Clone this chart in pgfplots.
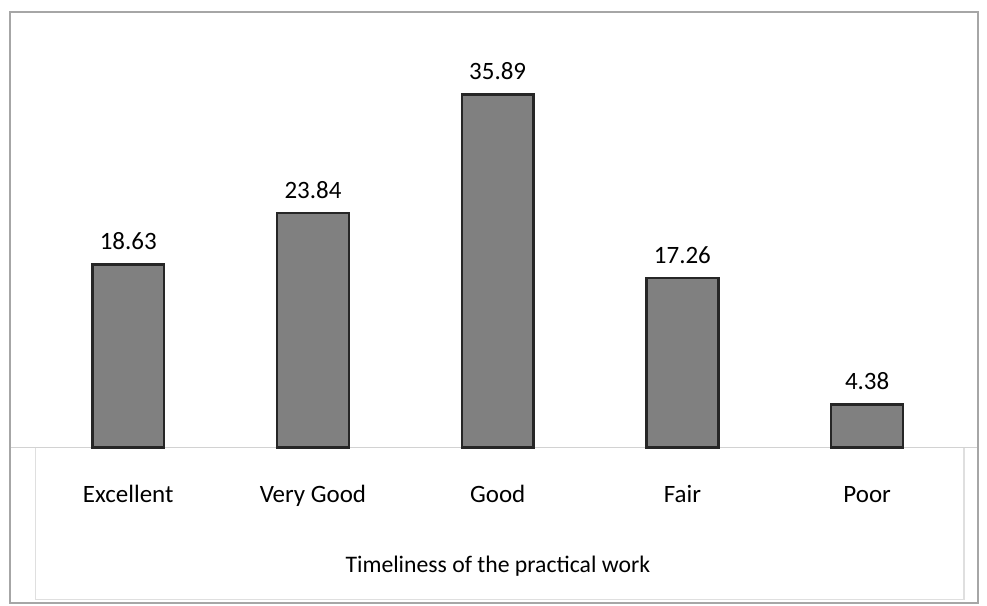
\documentclass[border=0pt]{standalone}
\usepackage{pgfplots}
\pgfplotsset{compat=1.18}
\usepackage{fontspec}
\setmainfont{Carlito}
\begin{document}
\begin{tikzpicture}
\begin{axis}[
  scale only axis,
  width=387.8pt, height=236.8pt,
  xmin=-0.64, xmax=4.6, ymin=-15.8, ymax=44.3,
  clip=false,
  axis x line*=middle,
  axis y line=none,
  x axis line style={draw=gray!35, -},
  ytick=\empty,
  xtick=data,
  xticklabels={Excellent, Very Good, Good, Fair, Poor},
  xtick style={draw=none},
  xticklabel style={font=\fontsize{10}{12}\selectfont, text height=7pt, text depth=2pt, yshift=-7pt},
  xlabel={Timeliness of the practical work},
  xlabel style={font=\fontsize{9.5}{11}\selectfont, at={(rel axis cs:0.504,0.0616)}, anchor=center},
  ybar, bar width=28.8pt,
  nodes near coords,
  every node near coord/.append style={font=\fontsize{10}{12}\selectfont, /pgf/number format/fixed, /pgf/number format/precision=2, /pgf/number format/fixed zerofill, /pgf/number format/assume math mode=true, yshift=2pt},
]
\addplot[fill=black!50, draw=black!85, line width=1pt] coordinates {(0,18.63) (1,23.84) (2,35.89) (3,17.26) (4,4.38)};
\draw[gray!70, line width=0.6pt] (rel axis cs:0,0) rectangle (rel axis cs:1,1);
\draw[gray!25, line width=0.5pt] (axis cs:-0.503,0) -- (axis cs:-0.503,-15.43) -- (axis cs:4.524,-15.43) -- (axis cs:4.524,0);
\path[use as bounding box] ([xshift=-4pt,yshift=-0.8pt]rel axis cs:0,0) rectangle ([xshift=3.6pt,yshift=4.8pt]rel axis cs:1,1);
\end{axis}
\end{tikzpicture}
\end{document}
